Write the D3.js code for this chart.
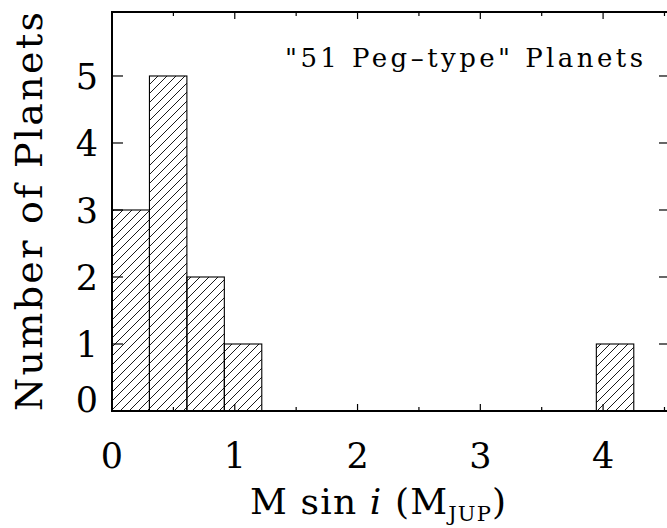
<!DOCTYPE html>
<html>
<head>
<meta charset="utf-8">
<script src="https://cdn.jsdelivr.net/npm/d3@7"></script>
<style>
  html, body { margin: 0; padding: 0; background: #fff; }
  svg { display: block; }
  svg text { fill: #000; }
</style>
</head>
<body>
<svg id="chart" width="667" height="528" font-family="'DejaVu Serif', 'Liberation Serif', serif"></svg>
<script>
// Histogram of minimum masses for the short-period ("51 Peg-type") planets
const binStarts = [0, 0.305, 0.61, 0.915, 3.945];
const binWidth = 0.305;
const counts = [3, 5, 2, 1, 1];

const xTickValues = [0, 1, 2, 3, 4];
const xMinorValues = [0.5, 1.5, 2.5, 3.5, 4.5];
const yTickValues = [0, 1, 2, 3, 4, 5];

const titleText = "\"51 Peg\u2013type\" Planets";
const yTitle = "Number of Planets";

const svg = d3.select("#chart");

const plotL = 112, plotR = 670, plotT = 12, plotB = 411;
const x = d3.scaleLinear().domain([0, 4.545]).range([plotL, plotR]);
const y = d3.scaleLinear().domain([0, 5.955]).range([plotB, plotT]);

// diagonal hatching shared by all bars
const defs = svg.append("defs");
const pat = defs.append("pattern")
  .attr("id", "hatch")
  .attr("patternUnits", "userSpaceOnUse")
  .attr("width", 9).attr("height", 9);
pat.append("path")
  .attr("d", "M-1,1 L1,-1 M0,9 L9,0 M8,10 L10,8")
  .attr("stroke", "#000").attr("stroke-width", 0.9).attr("fill", "none");

// bars
svg.append("g").selectAll("rect")
  .data(binStarts.map((s, i) => ({ lo: s, hi: s + binWidth, n: counts[i] })))
  .join("rect")
  .attr("x", d => x(d.lo))
  .attr("y", d => y(d.n))
  .attr("width", d => x(d.hi) - x(d.lo))
  .attr("height", d => y(0) - y(d.n))
  .attr("fill", "url(#hatch)")
  .attr("stroke", "#000")
  .attr("stroke-width", 1.1);

// frame
svg.append("rect")
  .attr("x", plotL).attr("y", plotT)
  .attr("width", plotR - plotL).attr("height", plotB - plotT)
  .attr("fill", "none").attr("stroke", "#000").attr("stroke-width", 2);

// inward ticks, bottom and top
const tickG = svg.append("g").attr("stroke", "#000").attr("stroke-width", 1.2);
const xTicks = xTickValues.map(v => ({ v, len: 7 })).concat(xMinorValues.map(v => ({ v, len: 4 })));
tickG.append("g").selectAll("line").data(xTicks).join("line")
  .attr("x1", d => x(d.v)).attr("x2", d => x(d.v))
  .attr("y1", plotB).attr("y2", d => plotB - d.len);
tickG.append("g").selectAll("line").data(xTicks).join("line")
  .attr("x1", d => x(d.v)).attr("x2", d => x(d.v))
  .attr("y1", plotT).attr("y2", d => plotT + d.len);
// left and right
tickG.append("g").selectAll("line").data(yTickValues).join("line")
  .attr("x1", plotL).attr("x2", plotL + 11)
  .attr("y1", d => y(d)).attr("y2", d => y(d));
tickG.append("g").selectAll("line").data(yTickValues).join("line")
  .attr("x1", plotR).attr("x2", plotR - 11)
  .attr("y1", d => y(d)).attr("y2", d => y(d));

// tick labels
svg.append("g").selectAll("text").data(xTickValues).join("text")
  .attr("x", d => x(d)).attr("y", 468)
  .attr("text-anchor", "middle")
  .attr("font-size", 35)
  .text(d => d);

svg.append("g").selectAll("text").data(yTickValues).join("text")
  .attr("x", 98)
  .attr("y", d => Math.min(y(d) + 13, plotB + 1))
  .attr("text-anchor", "end")
  .attr("font-size", 35)
  .text(d => d);

// in-panel title
svg.append("text")
  .attr("x", 285).attr("y", 67)
  .attr("font-size", 26)
  .attr("textLength", 358).attr("lengthAdjust", "spacing")
  .text(titleText);

// axis titles
const xt = svg.append("text")
  .attr("x", 250).attr("y", 514)
  .attr("font-size", 36)
  .attr("textLength", 256).attr("lengthAdjust", "spacing");
xt.append("tspan").text("M sin ");
xt.append("tspan").attr("font-style", "italic").text("i");
xt.append("tspan").text(" (M");
xt.append("tspan").attr("font-size", 21).attr("dy", 7).text("JUP");
xt.append("tspan").attr("dy", -7).text(")");

svg.append("text")
  .attr("transform", "translate(42,211.5) rotate(-90)")
  .attr("text-anchor", "middle")
  .attr("font-size", 38)
  .attr("textLength", 399).attr("lengthAdjust", "spacing")
  .text(yTitle);
</script>
</body>
</html>
